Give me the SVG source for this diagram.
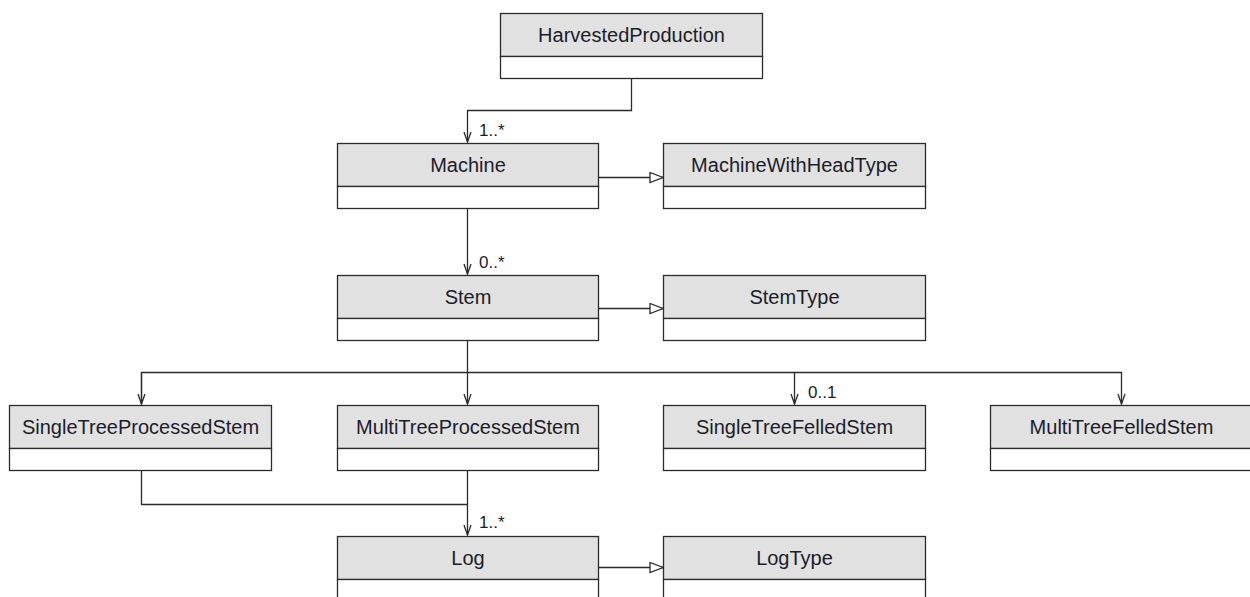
<svg xmlns="http://www.w3.org/2000/svg" width="1250" height="597" viewBox="0 0 1250 597">
<style>
.hd{fill:#e1e1e1;stroke:#2b2b2b;stroke-width:1.3}
.bd{fill:#ffffff;stroke:#2b2b2b;stroke-width:1.3}
.t{font-family:"Liberation Sans",Arial,sans-serif;font-size:20px;fill:#1c1c2a;text-anchor:middle}
.lb{font-family:"Liberation Sans",Arial,sans-serif;font-size:17px;fill:#1c1c2a}
.c{fill:none;stroke:#2b2b2b;stroke-width:1.3}
</style>
<defs>
<marker id="open" markerUnits="userSpaceOnUse" markerWidth="12" markerHeight="10" refX="11" refY="4" orient="auto">
<path d="M1,0.5 L11,4 L1,7.5" fill="none" stroke="#2b2b2b" stroke-width="1.3"/>
</marker>
<marker id="tri" markerUnits="userSpaceOnUse" markerWidth="16" markerHeight="14" refX="14" refY="6" orient="auto">
<path d="M1,1 L14,6 L1,11 Z" fill="#ffffff" stroke="#2b2b2b" stroke-width="1.3"/>
</marker>
</defs>
<g id="connectors">
<path class="c" d="M631.5,79 V110.5 H467.5 V142" marker-end="url(#open)"/>
<path class="c" d="M599,177.5 H663" marker-end="url(#tri)"/>
<path class="c" d="M467.5,209 V274" marker-end="url(#open)"/>
<path class="c" d="M599,308.5 H663" marker-end="url(#tri)"/>
<path class="c" d="M467.5,341 V372.5"/>
<path class="c" d="M141.5,404 V372.5 H1121.5 V404" marker-end="url(#open)"/>
<path class="c" d="M141.5,372.5 V404" marker-end="url(#open)"/>
<path class="c" d="M467.5,372.5 V404" marker-end="url(#open)"/>
<path class="c" d="M794.5,372.5 V404" marker-end="url(#open)"/>
<path class="c" d="M141.5,471 V504.5 H467.5"/>
<path class="c" d="M467.5,471 V535" marker-end="url(#open)"/>
<path class="c" d="M599,567.5 H663" marker-end="url(#tri)"/>
<text class="lb" x="479" y="136">1..*</text>
<text class="lb" x="479" y="268">0..*</text>
<text class="lb" x="808" y="398">0..1</text>
<text class="lb" x="479" y="528">1..*</text>
</g>
<g id="HarvestedProduction">
<rect class="hd" x="500.5" y="13.5" width="262" height="43"/>
<rect class="bd" x="500.5" y="56.5" width="262" height="22"/>
<text class="t" x="631.5" y="42">HarvestedProduction</text>
</g>
<g id="Machine">
<rect class="hd" x="337.5" y="143.5" width="261" height="43"/>
<rect class="bd" x="337.5" y="186.5" width="261" height="22"/>
<text class="t" x="468" y="172">Machine</text>
</g>
<g id="MachineWithHeadType">
<rect class="hd" x="663.5" y="143.5" width="262" height="43"/>
<rect class="bd" x="663.5" y="186.5" width="262" height="22"/>
<text class="t" x="794.5" y="172">MachineWithHeadType</text>
</g>
<g id="Stem">
<rect class="hd" x="337.5" y="275.5" width="261" height="43"/>
<rect class="bd" x="337.5" y="318.5" width="261" height="22"/>
<text class="t" x="468" y="304">Stem</text>
</g>
<g id="StemType">
<rect class="hd" x="663.5" y="275.5" width="262" height="43"/>
<rect class="bd" x="663.5" y="318.5" width="262" height="22"/>
<text class="t" x="794.5" y="304">StemType</text>
</g>
<g id="SingleTreeProcessedStem">
<rect class="hd" x="9.5" y="405.5" width="262" height="43"/>
<rect class="bd" x="9.5" y="448.5" width="262" height="22"/>
<text class="t" x="140.5" y="434">SingleTreeProcessedStem</text>
</g>
<g id="MultiTreeProcessedStem">
<rect class="hd" x="337.5" y="405.5" width="261" height="43"/>
<rect class="bd" x="337.5" y="448.5" width="261" height="22"/>
<text class="t" x="468" y="434">MultiTreeProcessedStem</text>
</g>
<g id="SingleTreeFelledStem">
<rect class="hd" x="663.5" y="405.5" width="262" height="43"/>
<rect class="bd" x="663.5" y="448.5" width="262" height="22"/>
<text class="t" x="794.5" y="434">SingleTreeFelledStem</text>
</g>
<g id="MultiTreeFelledStem">
<rect class="hd" x="990.5" y="405.5" width="263" height="43"/>
<rect class="bd" x="990.5" y="448.5" width="263" height="22"/>
<text class="t" x="1121.5" y="434">MultiTreeFelledStem</text>
</g>
<g id="Log">
<rect class="hd" x="337.5" y="536.5" width="261" height="43"/>
<rect class="bd" x="337.5" y="579.5" width="261" height="22"/>
<text class="t" x="468" y="565">Log</text>
</g>
<g id="LogType">
<rect class="hd" x="663.5" y="536.5" width="262" height="43"/>
<rect class="bd" x="663.5" y="579.5" width="262" height="22"/>
<text class="t" x="794.5" y="565">LogType</text>
</g>
</svg>
